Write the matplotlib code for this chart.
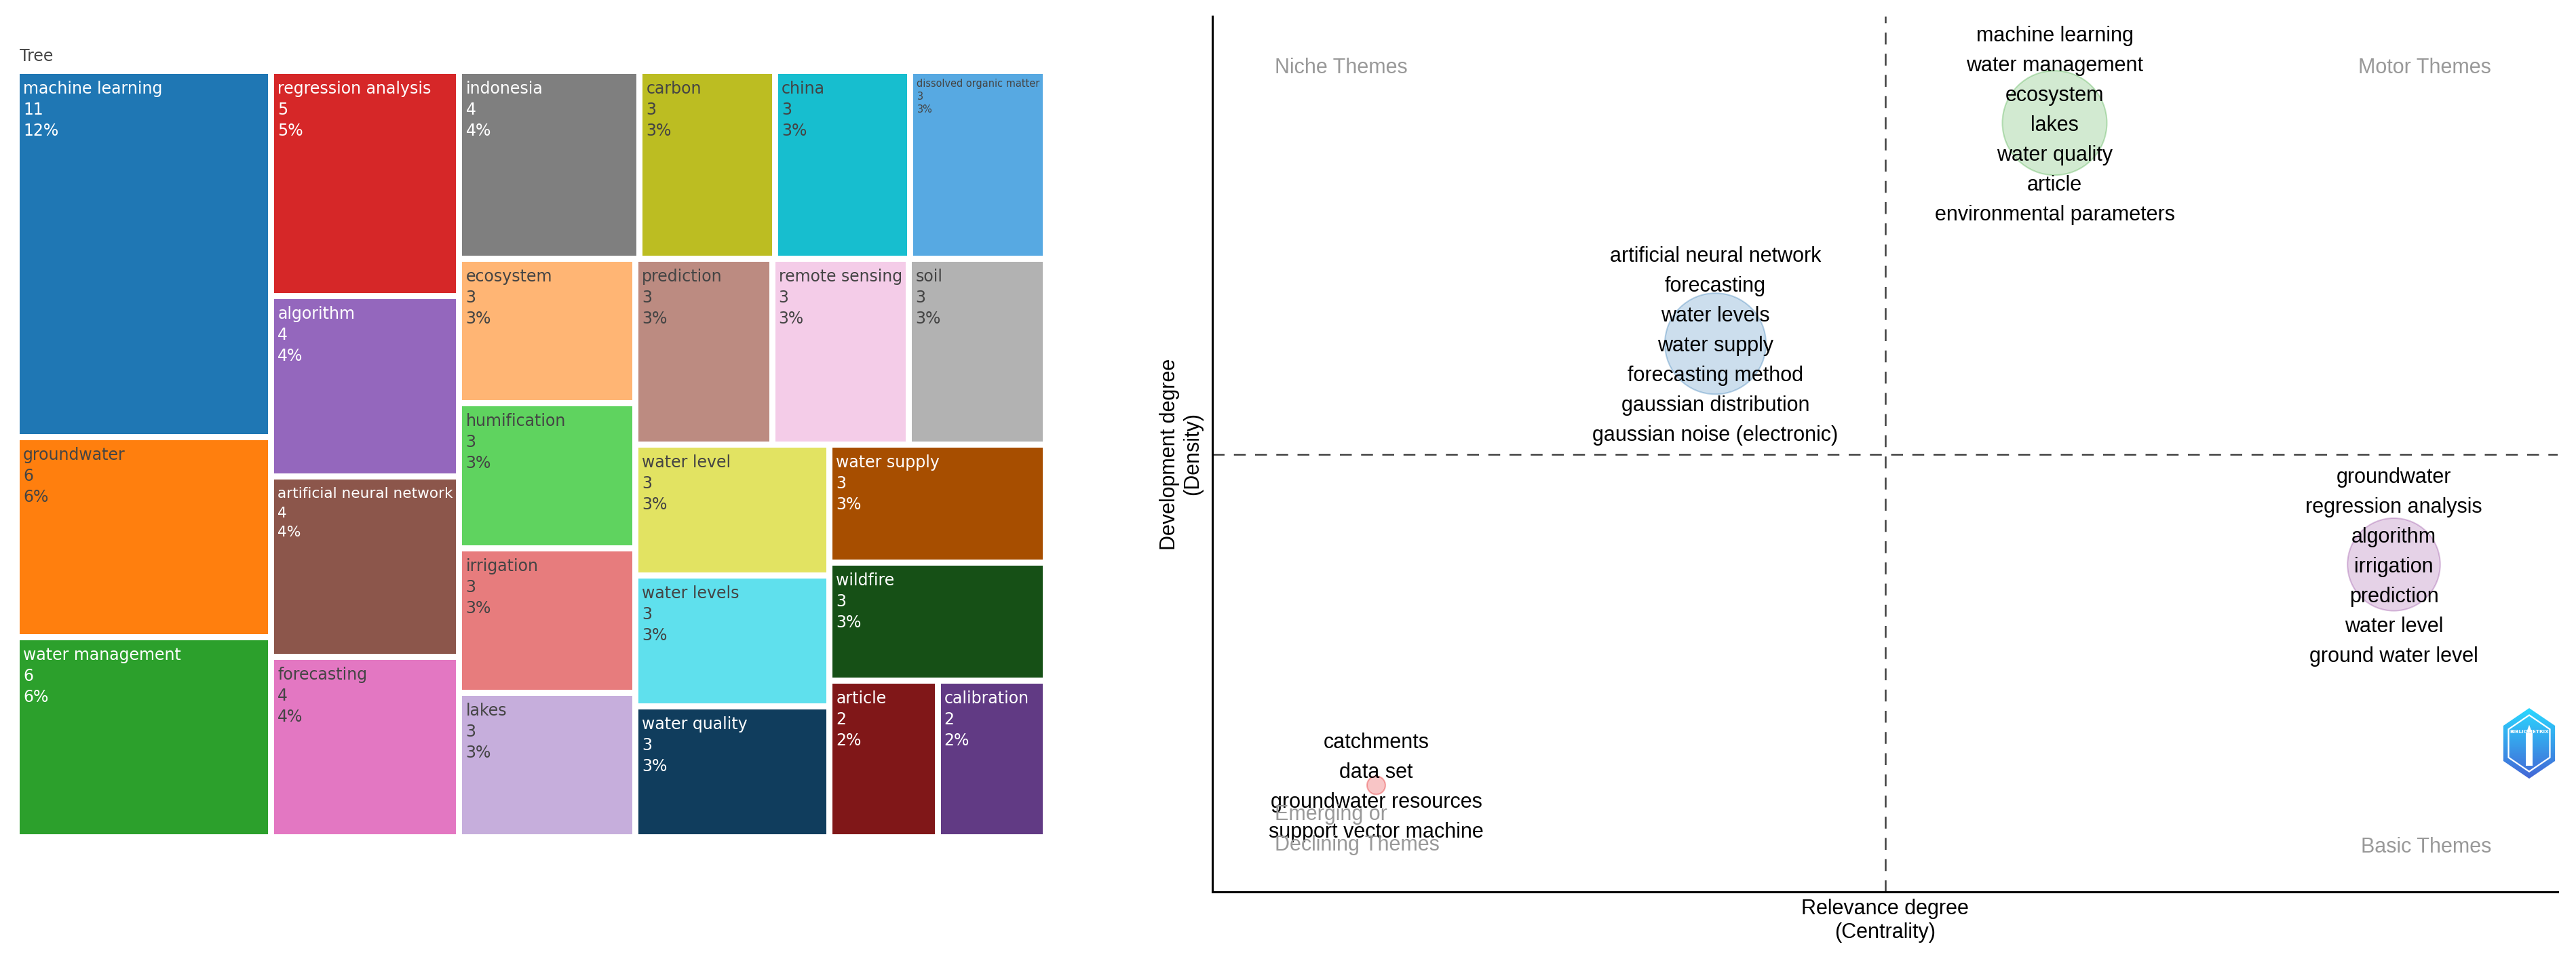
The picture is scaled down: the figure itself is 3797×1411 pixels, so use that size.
import colorsys
import matplotlib
matplotlib.use('Agg')
import matplotlib.pyplot as plt
import matplotlib.colors as mcolors
from matplotlib.patches import Rectangle, Polygon
import numpy as np

# ---- treemap data (keyword, occurrences) ----
terms = ['machine learning', 'groundwater', 'water management', 'regression analysis',
         'algorithm', 'artificial neural network', 'forecasting', 'indonesia',
         'carbon', 'china', 'dissolved organic matter', 'ecosystem', 'humification',
         'irrigation', 'lakes', 'prediction', 'remote sensing', 'soil',
         'water level', 'water levels', 'water quality', 'water supply', 'wildfire',
         'article', 'calibration']
counts = [11, 6, 6, 5, 4, 4, 4, 4, 3, 3, 3, 3, 3, 3, 3, 3, 3, 3, 3, 3, 3, 3, 3, 2, 2]

# ---- thematic map data ----
cluster_words = [
    ['machine learning', 'water management', 'ecosystem', 'lakes', 'water quality',
     'article', 'environmental parameters'],
    ['artificial neural network', 'forecasting', 'water levels', 'water supply',
     'forecasting method', 'gaussian distribution', 'gaussian noise (electronic)'],
    ['groundwater', 'regression analysis', 'algorithm', 'irrigation', 'prediction',
     'water level', 'ground water level'],
    ['catchments', 'data set', 'groundwater resources', 'support vector machine'],
]
centrality_rank = [3, 2, 4, 1]
density_rank = [4, 3, 2, 1]
cluster_freq = [59, 57, 52, 8]
cluster_colors = ['#4DAF4A', '#377EB8', '#984EA3', '#E41A1C']

base_colors = ['#1f77b4', '#ff7f0e', '#2ca02c', '#d62728', '#9467bd',
               '#8c564b', '#e377c2', '#7f7f7f', '#bcbd22', '#17becf']

W, H = 3798, 1411


def shift_l(c, amt):
    r, g, b = mcolors.to_rgb(c)
    h, l, s = colorsys.rgb_to_hls(r, g, b)
    l = min(1, max(0, l + amt))
    return colorsys.hls_to_rgb(h, l, s)


palette = base_colors + [shift_l(c, 0.2) for c in base_colors] + [shift_l(c, -0.2) for c in base_colors]


def squarify(values, x0, y0, x1, y1, ratio=1.0):
    # d3-hierarchy style squarified tiling
    rects = [None] * len(values)
    value = float(sum(values))
    n = len(values)
    i0 = i1 = 0
    while i0 < n:
        dx, dy = x1 - x0, y1 - y0
        sum_v = values[i1]
        i1 += 1
        min_v = max_v = sum_v
        alpha = max(dy / dx, dx / dy) / (value * ratio)
        beta = sum_v * sum_v * alpha
        min_ratio = max(max_v / beta, beta / min_v)
        while i1 < n:
            v = values[i1]
            sum_v += v
            min_v = min(min_v, v)
            max_v = max(max_v, v)
            beta = sum_v * sum_v * alpha
            new_ratio = max(max_v / beta, beta / min_v)
            if new_ratio > min_ratio:
                sum_v -= v
                break
            min_ratio = new_ratio
            i1 += 1
        if dx < dy:
            ny = y0 + dy * sum_v / value
            x = x0
            for i in range(i0, i1):
                w = (x1 - x0) * values[i] / sum_v
                rects[i] = (x, y0, x + w, ny)
                x += w
            y0 = ny
        else:
            nx = x0 + dx * sum_v / value
            y = y0
            for i in range(i0, i1):
                h = (y1 - y0) * values[i] / sum_v
                rects[i] = (x0, y, nx, y + h)
                y += h
            x0 = nx
        value -= sum_v
        i0 = i1
    return rects


fig = plt.figure(figsize=(W / 100, H / 100), dpi=100)
ax0 = fig.add_axes([0, 0, 1, 1])
ax0.set_xlim(0, W)
ax0.set_ylim(H, 0)
ax0.axis('off')
renderer = fig.canvas.get_renderer()

# sort like plotly: by value, ties alphabetically
order = sorted(range(len(terms)), key=lambda i: (-counts[i], terms[i]))
t_terms = [terms[i] for i in order]
t_counts = [counts[i] for i in order]
total = sum(t_counts)

gap = 9
bx0, by0, bx1, by1 = 29, 109, 1537, 1230
cells = squarify(t_counts, bx0 - gap / 2, by0 - gap / 2, bx1 + gap / 2, by1 + gap / 2)

base_fs = 17
line_px = 31
first_px = 25
for k, (term, cnt) in enumerate(zip(t_terms, t_counts)):
    x0, y0, x1, y1 = cells[k]
    x0, y0, x1, y1 = x0 + gap / 2, y0 + gap / 2, x1 - gap / 2, y1 - gap / 2
    col = palette[k]
    ax0.add_patch(Rectangle((x0, y0), x1 - x0, y1 - y0, facecolor=col, edgecolor='none'))
    r, g, b = [v * 255 for v in mcolors.to_rgb(col)]
    tcol = '#444444' if (r * 299 + g * 587 + b * 114) / 1000 > 128 else 'white'
    lines = [term, str(cnt), '%d%%' % round(100 * cnt / total)]
    t = ax0.text(0, 0, term, fontsize=base_fs, family='DejaVu Sans')
    tw = t.get_window_extent(renderer).width
    t.remove()
    sc = min(1.0, (x1 - x0 - 10) / tw)
    for j, s in enumerate(lines):
        ax0.text(x0 + 5, y0 + 4 + first_px * sc + j * line_px * sc, s,
                 fontsize=base_fs * sc, family='DejaVu Sans', color=tcol,
                 ha='left', va='baseline')

ax0.text(bx0, 83, 'Tree', fontsize=17, family='DejaVu Sans', color='#444444',
         ha='left', va='center')

# ---- strategic map ----
px0, px1, py0, py1 = 1787, 3770, 24, 1315
ax1 = fig.add_axes([px0 / W, 1 - py1 / H, (px1 - px0) / W, (py1 - py0) / H])
ax1.patch.set_alpha(0)
xs = np.array(centrality_rank, dtype=float)
ys = np.array(density_rank, dtype=float)
pad = 0.483
ax1.set_xlim(xs.min() - pad, xs.max() + pad)
ax1.set_ylim(ys.min() - pad, ys.max() + pad)
for sp in ['top', 'right']:
    ax1.spines[sp].set_visible(False)
for sp in ['left', 'bottom']:
    ax1.spines[sp].set_linewidth(2.2)
    ax1.spines[sp].set_color('black')
ax1.set_xticks([])
ax1.set_yticks([])

ax1.axvline(xs.mean(), color='#404040', lw=1.8, dashes=(7, 5.5), zorder=1)
ax1.axhline(ys.mean(), color='#404040', lw=1.8, dashes=(7, 5.5), zorder=1)

freq = np.array(cluster_freq, dtype=float)
r_px = 13.5 + (freq - freq.min()) / (freq.max() - freq.min()) * (77 - 13.5)
sizes = (2 * r_px * 0.72) ** 2
fc = [mcolors.to_rgba(c, 0.25) for c in cluster_colors]
ec = [mcolors.to_rgba(c, 0.35) for c in cluster_colors]
ax1.scatter(xs, ys, s=sizes, facecolors=fc, edgecolors=ec, linewidths=1.5, zorder=2)

step = 44 * 0.72
for words, x, y in zip(cluster_words, xs, ys):
    n = len(words)
    for j, w in enumerate(words):
        ax1.annotate(w, (x, y), xytext=(0, -(j - (n - 1) / 2) * step),
                     textcoords='offset points', ha='center', va='center_baseline',
                     fontsize=22, family='Liberation Sans', color='black', zorder=3)

qcol = '#999999'
ax1.text(0.0464, 0.9435, 'Niche Themes', transform=ax1.transAxes, ha='left',
         va='center_baseline', fontsize=22, family='Liberation Sans', color=qcol)
ax1.text(0.9506, 0.9435, 'Motor Themes', transform=ax1.transAxes, ha='right',
         va='center_baseline', fontsize=22, family='Liberation Sans', color=qcol)
ax1.text(0.9506, 0.0542, 'Basic Themes', transform=ax1.transAxes, ha='right',
         va='center_baseline', fontsize=22, family='Liberation Sans', color=qcol)
ax1.text(0.0464, 0.0708, 'Emerging or\nDeclining Themes', transform=ax1.transAxes,
         ha='left', va='center', fontsize=22, family='Liberation Sans', color=qcol,
         linespacing=1.64)

ax1.text(0.5, -0.0329, 'Relevance degree\n(Centrality)', transform=ax1.transAxes,
         ha='center', va='center', fontsize=22, family='Liberation Sans',
         linespacing=1.19, multialignment='center')
ax1.text(-0.0232, 0.5, 'Development degree\n(Density)', transform=ax1.transAxes,
         ha='center', va='center', rotation=90, fontsize=22, family='Liberation Sans',
         linespacing=1.19, multialignment='center')

# ---- bibliometrix badge ----
axl = fig.add_axes([3684 / W, 1 - 1148 / H, 88 / W, 104 / H])
axl.set_xlim(-1, 1)
axl.set_ylim(-1.18, 1.18)
axl.axis('off')
ang = np.deg2rad(np.arange(90, 450, 60))
hexo = np.c_[np.cos(ang), 1.18 * np.sin(ang)]
outer = Polygon(hexo, closed=True, facecolor='none', edgecolor='none')
axl.add_patch(outer)
grad = np.linspace(0, 1, 200).reshape(-1, 1)
cmap = mcolors.LinearSegmentedColormap.from_list('bx', ['#4466d6', '#2ad8ff'])
im = axl.imshow(grad, extent=(-1, 1, 1.18, -1.18), cmap=cmap, aspect='auto')
im.set_clip_path(outer)
axl.add_patch(Polygon(hexo * 0.8, closed=True, facecolor='none', edgecolor='white', lw=1.6))
axl.add_patch(Rectangle((-0.12, -0.75), 0.24, 1.1, facecolor='white', edgecolor='none'))
axl.add_patch(Polygon([[-0.1, 0.35], [0.1, 0.35], [0, 0.62]], closed=True,
                      facecolor='white', edgecolor='none'))
axl.text(0, 0.38, 'BIBLIOMETRIX', ha='center', va='center', fontsize=5.2,
         fontweight='bold', color='white', family='DejaVu Sans')

fig.savefig('out.png', dpi=100)
